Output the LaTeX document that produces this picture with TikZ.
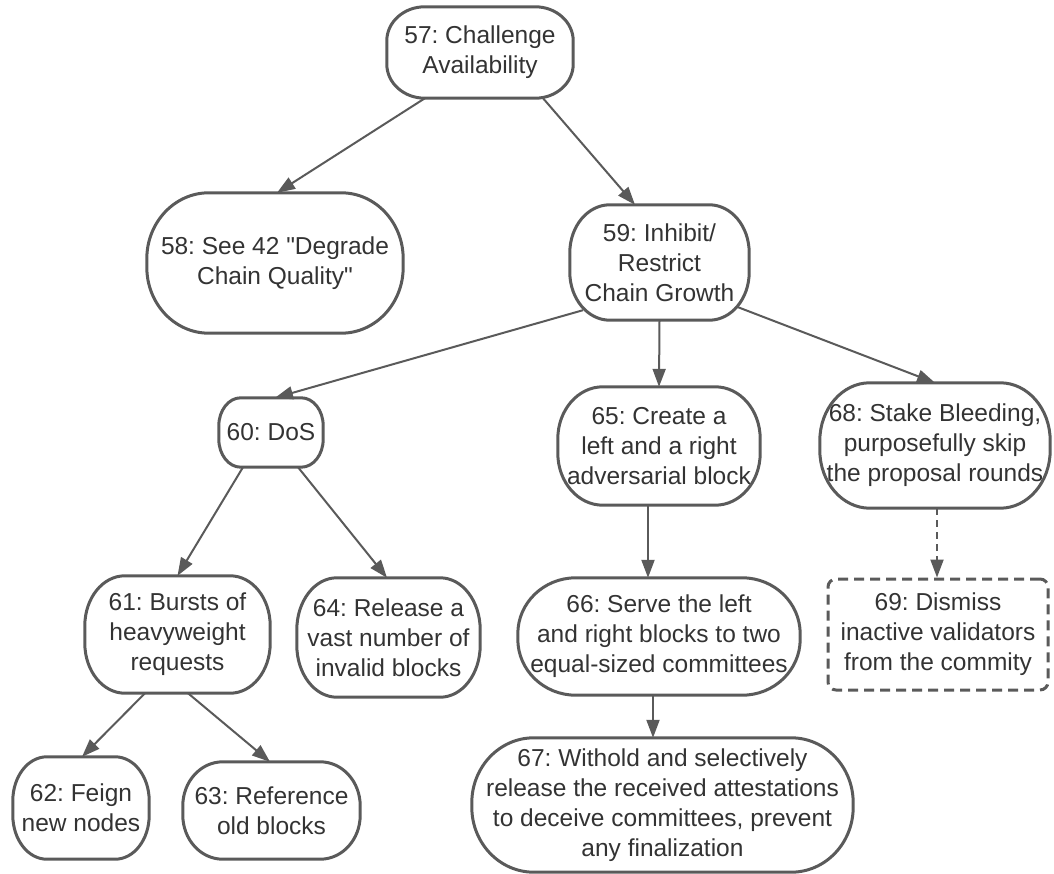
\documentclass[tikz,border=0pt]{standalone}
\usepackage{fontspec}
\setmainfont{Liberation Sans}
\usetikzlibrary{arrows.meta}
\frenchspacing
\definecolor{linegray}{HTML}{5A5A5A}
\definecolor{textgray}{HTML}{333333}
\tikzset{
  lbl/.style={rectangle, align=center, inner sep=0pt, text=textgray,
    font=\fontsize{24.5}{30}\selectfont},
  boxline/.style={draw=linegray, line width=3pt},
  edge/.style={draw=linegray, line width=2pt,
    -{Triangle[length=18pt,width=13pt]}},
}
% rounded box with elliptical corners around a node: name, x radius, y radius
\newcommand\ovalbox[3]{%
  \draw[boxline] ([xshift=#2]#1.north west) -- ([xshift=-#2]#1.north east)
    arc[start angle=90,end angle=0,x radius=#2,y radius=#3]
    -- ([yshift=#3]#1.south east)
    arc[start angle=0,end angle=-90,x radius=#2,y radius=#3]
    -- ([xshift=#2]#1.south west)
    arc[start angle=270,end angle=180,x radius=#2,y radius=#3]
    -- ([yshift=-#3]#1.north west)
    arc[start angle=180,end angle=90,x radius=#2,y radius=#3] -- cycle;}
% straight double quote glyph, set directly so no curly-quote mapping applies
\newcommand\dq{\XeTeXglyph\XeTeXcharglyph"22\relax}
\begin{document}
\begin{tikzpicture}[x=1pt,y=-1pt]
\useasboundingbox (0,0) rectangle (1054,874);

% nodes
\node[lbl, minimum width=186pt, minimum height=91pt]  (n57) at (480,52.5)   {57: Challenge\\Availability};
\node[lbl, minimum width=256pt, minimum height=140pt] (n58) at (275,263)    {58: See 42 \dq Degrade\\Chain Quality\dq};
\node[lbl, minimum width=179pt, minimum height=115pt] (n59) at (659.5,262.5){59: Inhibit/\\Restrict\\Chain Growth};
\node[lbl, minimum width=104pt, minimum height=69pt]  (n60) at (271,432.5)  {60: DoS};
\node[lbl, minimum width=185pt, minimum height=117pt] (n61) at (177.5,634.5){61: Bursts of\\heavyweight\\requests};
\node[lbl, minimum width=136pt, minimum height=102pt] (n62) at (81,808)     {62: Feign\\new nodes};
\node[lbl, minimum width=177pt, minimum height=97pt]  (n63) at (271.5,810.5){63: Reference\\old blocks};
\node[lbl, minimum width=183pt, minimum height=119pt] (n64) at (388.5,637.5){64: Release a\\vast number of\\invalid blocks};
\node[lbl, minimum width=202pt, minimum height=118pt] (n65) at (659,446)    {65: Create a\\left and a right\\adversarial block};
\node[lbl, minimum width=282pt, minimum height=117pt] (n66) at (659,636.5)  {66: Serve the left\\and right blocks to two\\equal-sized committees};
\node[lbl, minimum width=381pt, minimum height=134pt] (n67) at (662.5,805)  {67: Withold and selectively\\release the received attestations\\to deceive committees, prevent\\any finalization};
\node[lbl, minimum width=230pt, minimum height=125pt] (n68) at (935,445.5)  {68: Stake Bleeding,\\purposefully skip\\the proposal rounds};
\node[lbl, minimum width=220pt, minimum height=111pt, draw=linegray, line width=3pt,
      rounded corners=8pt, dash pattern=on 10pt off 6pt] (n69) at (938,634.5)
      {69: Dismiss\\inactive validators\\from the commity};

% node outlines
\ovalbox{n57}{38pt}{34pt}
\ovalbox{n58}{62pt}{66pt}
\ovalbox{n59}{40pt}{48pt}
\ovalbox{n60}{22pt}{28pt}
\ovalbox{n61}{40pt}{50pt}
\ovalbox{n62}{34pt}{44pt}
\ovalbox{n63}{40pt}{44pt}
\ovalbox{n64}{40pt}{52pt}
\ovalbox{n65}{45pt}{52pt}
\ovalbox{n66}{58pt}{56pt}
\ovalbox{n67}{62pt}{65pt}
\ovalbox{n68}{50pt}{58pt}

% connectors
\draw[edge] ([xshift=-55pt]n57.south) -- ([xshift=2pt]n58.north);
\draw[edge] ([xshift=63pt]n57.south) -- ([xshift=-24.5pt]n59.north);
\draw[edge] ([xshift=-76.5pt,yshift=10pt]n59.south) -- ([xshift=4pt]n60.north);
\draw[edge] (n59.south) -- (n65.north);
\draw[edge] ([xshift=78.5pt,yshift=13pt]n59.south) -- (n68.north);
\draw[edge] ([xshift=-28pt]n60.south) -- (n61.north);
\draw[edge] ([xshift=27pt]n60.south) -- ([xshift=-1.5pt]n64.north);
\draw[edge] ([xshift=-11pt]n65.south) -- ([xshift=-11pt]n66.north);
\draw[edge, dash pattern=on 7pt off 5pt] ([xshift=2pt]n68.south) -- ([xshift=-1pt]n69.north);
\draw[edge] ([xshift=-32.5pt]n61.south) -- ([xshift=1pt]n62.north);
\draw[edge] ([xshift=10.5pt]n61.south) -- ([xshift=-1.5pt]n63.north);
\draw[edge] ([xshift=-6pt]n66.south) -- ([xshift=-9.5pt]n67.north);
\end{tikzpicture}
\end{document}
